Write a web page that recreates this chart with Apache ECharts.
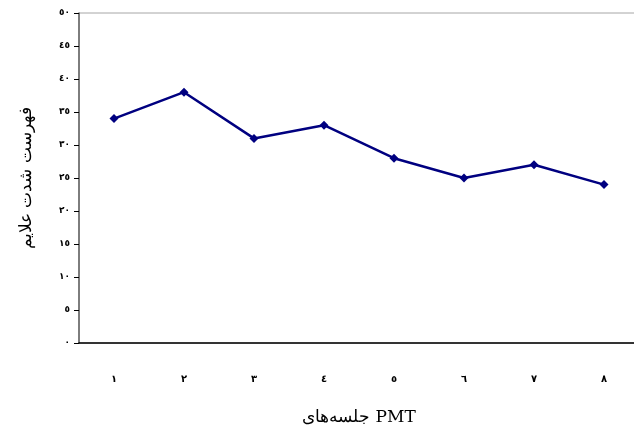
<!DOCTYPE html>
<html>
<head>
<meta charset="utf-8">
<script src="https://cdn.jsdelivr.net/npm/echarts@6/dist/echarts.min.js"></script>
<style>
  html, body { margin: 0; padding: 0; background: #fff; }
  #chart { width: 634px; height: 431px; }
</style>
</head>
<body>
<div id="chart"></div>
<script>
// جلسات
const sessions = ["١", "٢", "٣", "٤", "٥", "٦", "٧", "٨"];
// فهرست شدت علایم
const scores = [34, 38, 31, 33, 28, 25, 27, 24];
const yTickLabels = ["٠", "٥", "١٠", "١٥", "٢٠", "٢٥", "٣٠", "٣٥", "٤٠", "٤٥", "٥٠"];

const chart = echarts.init(document.getElementById("chart"));
const option = {
  animation: false,
  grid: {
    left: 79, width: 560, top: 13, bottom: 88,
    outerBoundsMode: "none",
    show: true, borderColor: "#a6a6a6", borderWidth: 1
  },
  xAxis: {
    type: "category",
    data: sessions,
    name: "جلسه‌های PMT",
    nameLocation: "middle",
    nameGap: 66,
    nameTextStyle: { fontFamily: "DejaVu Serif, Liberation Serif", fontSize: 17, color: "#000" },
    axisLine: { lineStyle: { color: "#000", width: 1.5 } },
    axisTick: { length: 5, lineStyle: { color: "#000" } },
    axisLabel: { margin: 31, fontSize: 10, fontWeight: "bold", color: "#000", fontFamily: "DejaVu Sans" }
  },
  yAxis: {
    type: "value",
    min: 0, max: 50, interval: 5,
    name: "فهرست شدت علایم",
    nameLocation: "middle",
    nameRotate: 90,
    nameGap: 44,
    nameTextStyle: { fontFamily: "DejaVu Serif, Liberation Serif", fontSize: 17, color: "#000" },
    axisLine: { show: true, lineStyle: { color: "#606060", width: 1.5 } },
    axisTick: { show: true, length: 5, lineStyle: { color: "#000" } },
    splitLine: { show: false },
    axisLabel: {
      margin: 9, fontSize: 9, fontWeight: "bold", color: "#000", fontFamily: "DejaVu Sans",
      formatter: function (v) { return yTickLabels[Math.round(v / 5)]; }
    }
  },
  series: [{
    type: "line",
    data: scores,
    symbol: "diamond",
    symbolSize: 9,
    lineStyle: { color: "#000080", width: 2.5 },
    itemStyle: { color: "#000080" }
  }]
};
chart.setOption(option);
</script>
</body>
</html>
